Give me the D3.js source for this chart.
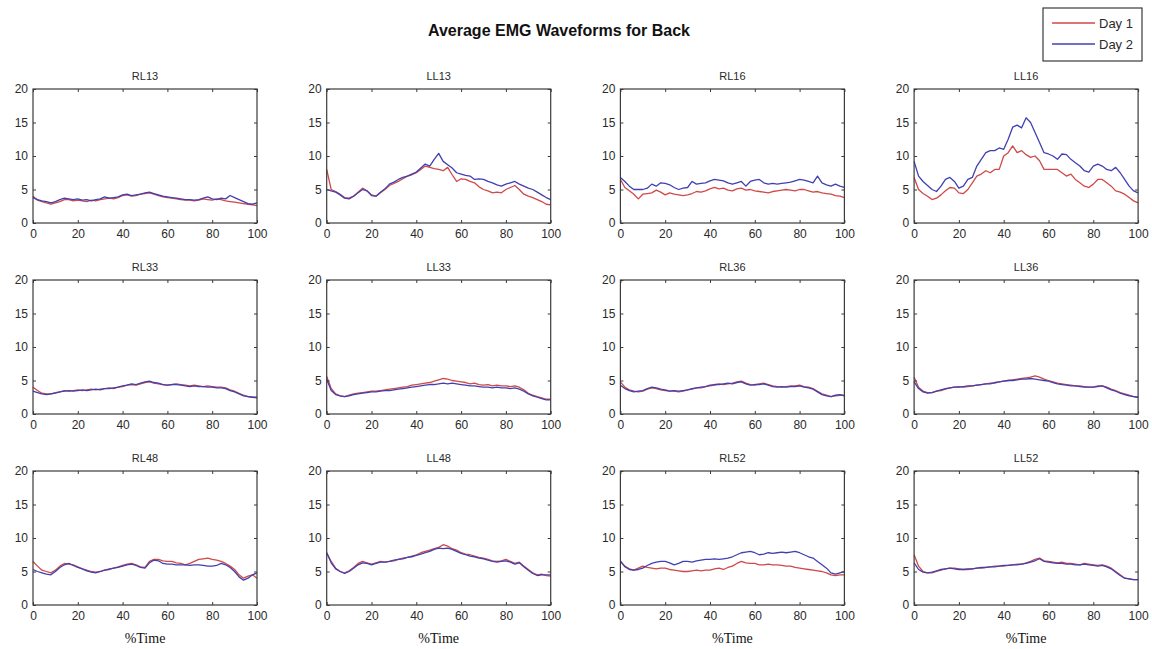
<!DOCTYPE html>
<html>
<head>
<meta charset="utf-8">
<script src="https://cdn.jsdelivr.net/npm/d3@7"></script>
<style>
  html, body { margin: 0; padding: 0; background: #fff; }
  svg { display: block; }
</style>
</head>
<body>
<svg id="chart" width="1152" height="649"></svg>
<script>
// Percent of the movement cycle, sampled every 2 %
const timePct = d3.range(0, 101, 2);

// Muscle sites, in panel order (row by row)
const sites = ["RL13", "LL13", "RL16", "LL16", "RL33", "LL33", "RL36", "LL36", "RL48", "LL48", "RL52", "LL52"];

const seriesNames = ["Day 1", "Day 2"];
const xTicks = [0, 20, 40, 60, 80, 100];
const yTicks = [0, 5, 10, 15, 20];

// Average EMG amplitude per site, Day 1
const day1 = {
  RL13: [4.0,3.4,3.2,3.0,2.8,3.0,3.2,3.5,3.5,3.3, 3.4,3.3,3.2,3.4,3.3,3.5,3.6,3.7,3.6,3.8, 4.1,4.2,4.0,4.1,4.3,4.4,4.5,4.3,4.1,3.9, 3.8,3.7,3.6,3.5,3.4,3.4,3.3,3.4,3.6,3.5, 3.4,3.6,3.5,3.3,3.2,3.1,3.0,2.9,2.8,2.7, 2.6],
  LL13: [8.0,5.0,4.7,4.3,3.8,3.7,4.0,4.6,5.2,4.8, 4.2,4.0,4.5,5.0,5.6,5.9,6.2,6.6,7.0,7.2, 7.5,8.0,8.5,8.3,8.1,8.0,7.8,8.3,7.2,6.2, 6.6,6.5,6.2,6.0,5.4,5.0,4.8,4.5,4.6,4.5, 5.0,5.3,5.6,5.0,4.3,4.0,3.8,3.5,3.2,2.8, 2.7],
  RL16: [6.5,5.3,4.8,4.3,3.6,4.3,4.4,4.5,4.9,4.6, 4.2,4.5,4.3,4.2,4.1,4.2,4.4,4.7,4.6,4.8, 5.1,5.3,5.1,5.2,4.9,4.8,5.1,5.2,4.9,5.0, 4.8,4.7,4.6,4.5,4.7,4.8,4.9,5.0,4.9,4.8, 5.0,5.0,4.8,4.6,4.7,4.5,4.4,4.3,4.1,4.0, 3.8],
  LL16: [6.8,5.0,4.4,4.0,3.5,3.7,4.2,4.8,5.3,5.2, 4.5,4.4,5.0,6.0,7.0,7.3,7.8,7.5,8.0,8.0, 10.0,10.5,11.5,10.5,10.8,10.2,9.8,10.0,9.3,8.0, 8.0,8.0,8.0,7.5,7.0,7.3,6.5,6.0,5.5,5.3, 5.8,6.5,6.5,6.0,5.5,4.8,4.6,4.3,3.8,3.3, 3.0],
  RL33: [4.0,3.5,3.1,3.0,3.0,3.2,3.3,3.5,3.4,3.5, 3.6,3.5,3.6,3.7,3.6,3.7,3.8,3.9,3.8,4.0, 4.1,4.3,4.4,4.3,4.5,4.7,4.8,4.6,4.5,4.4, 4.3,4.4,4.5,4.4,4.3,4.2,4.3,4.2,4.1,4.2, 4.1,4.0,4.0,3.9,3.6,3.4,3.1,2.8,2.6,2.5, 2.4],
  LL33: [5.6,3.8,3.0,2.7,2.6,2.8,3.0,3.1,3.2,3.3, 3.4,3.4,3.5,3.6,3.7,3.8,3.9,4.0,4.1,4.3, 4.4,4.5,4.6,4.7,4.9,5.1,5.3,5.2,5.0,4.9, 4.8,4.7,4.5,4.6,4.4,4.3,4.4,4.2,4.3,4.2, 4.2,4.1,4.2,4.0,3.6,3.1,2.8,2.6,2.4,2.2, 2.2],
  RL36: [4.8,4.0,3.6,3.4,3.3,3.4,3.7,3.9,3.8,3.6, 3.5,3.4,3.4,3.3,3.4,3.6,3.7,3.9,3.9,4.1, 4.2,4.3,4.5,4.4,4.5,4.6,4.8,4.9,4.6,4.4, 4.3,4.5,4.6,4.4,4.2,4.1,4.0,4.1,4.2,4.2, 4.3,4.1,4.0,3.8,3.4,3.0,2.8,2.6,2.7,2.8, 2.8],
  LL36: [5.5,4.0,3.4,3.2,3.2,3.4,3.5,3.7,3.9,4.0, 4.1,4.0,4.1,4.2,4.3,4.4,4.5,4.6,4.6,4.8, 4.9,5.0,5.1,5.2,5.3,5.4,5.5,5.7,5.5,5.2, 5.0,4.8,4.6,4.5,4.4,4.3,4.2,4.2,4.1,4.0, 4.0,4.2,4.2,4.0,3.7,3.5,3.2,3.0,2.8,2.6, 2.5],
  RL48: [6.5,5.8,5.2,5.0,4.8,5.2,5.8,6.2,6.1,6.0, 5.7,5.4,5.2,5.0,4.9,5.0,5.2,5.4,5.5,5.7, 5.9,6.1,6.2,6.0,5.7,5.6,6.5,6.8,6.8,6.6, 6.5,6.5,6.3,6.2,6.0,6.2,6.5,6.8,6.9,7.0, 6.8,6.7,6.5,6.2,5.8,5.3,4.5,4.0,4.3,4.5, 4.0],
  LL48: [7.8,6.5,5.5,5.0,4.8,5.1,5.6,6.2,6.5,6.3, 6.1,6.3,6.5,6.4,6.5,6.6,6.8,7.0,7.1,7.3, 7.5,7.8,8.0,8.2,8.4,8.6,9.0,8.8,8.4,8.2, 7.8,7.6,7.5,7.3,7.1,7.0,6.8,6.6,6.5,6.6, 6.8,6.5,6.2,6.4,5.8,5.3,4.8,4.5,4.6,4.4, 4.3],
  RL52: [6.5,5.8,5.4,5.2,5.5,5.8,5.6,5.5,5.4,5.5, 5.5,5.3,5.2,5.1,5.0,5.0,5.1,5.2,5.1,5.2, 5.2,5.4,5.5,5.3,5.6,5.8,6.2,6.5,6.3,6.2, 6.2,6.0,6.0,6.1,6.0,6.0,5.9,5.8,5.8,5.6, 5.5,5.4,5.3,5.2,5.1,5.0,4.8,4.5,4.4,4.5, 4.5],
  LL52: [7.5,5.8,5.0,4.8,4.8,5.0,5.2,5.4,5.5,5.5, 5.4,5.3,5.3,5.4,5.5,5.5,5.6,5.7,5.8,5.8, 5.8,5.9,6.0,6.1,6.1,6.3,6.5,6.8,7.0,6.6, 6.5,6.4,6.3,6.4,6.2,6.2,6.1,6.0,6.2,6.1, 6.0,5.9,6.0,5.8,5.5,5.0,4.5,4.0,3.9,3.8, 3.8]
};

// Average EMG amplitude per site, Day 2
const day2 = {
  RL13: [3.8,3.5,3.3,3.2,3.0,3.2,3.5,3.7,3.6,3.5, 3.6,3.4,3.5,3.3,3.5,3.6,3.9,3.7,3.8,3.9, 4.2,4.3,4.1,4.2,4.3,4.5,4.6,4.4,4.2,4.0, 3.9,3.8,3.7,3.6,3.5,3.5,3.4,3.5,3.7,3.9, 3.6,3.5,3.7,3.6,4.1,3.8,3.5,3.2,2.9,2.8, 3.0],
  LL13: [5.0,4.8,4.6,4.2,3.7,3.6,4.0,4.5,5.0,4.8, 4.1,4.0,4.6,5.1,5.8,6.1,6.5,6.8,7.0,7.3, 7.6,8.2,8.8,8.5,9.5,10.4,9.2,8.7,8.2,7.5, 7.3,7.1,7.0,6.5,6.6,6.5,6.2,6.0,5.7,5.5, 5.8,6.0,6.2,5.8,5.5,5.2,5.0,4.6,4.2,3.8, 3.5],
  RL16: [6.8,6.2,5.5,5.0,5.0,5.0,5.2,5.8,5.5,6.0, 5.9,5.7,5.3,5.0,5.2,5.3,6.2,5.8,5.9,6.0, 6.3,6.5,6.4,6.3,6.0,5.8,6.0,6.2,5.5,6.2, 6.4,6.5,6.0,5.8,5.9,5.8,5.9,6.0,6.1,6.3, 6.5,6.4,6.2,6.0,7.0,6.0,5.7,5.5,5.8,5.5, 5.3],
  LL16: [9.2,7.0,6.2,5.6,5.0,4.7,5.5,6.5,6.8,6.2, 5.2,5.5,6.5,6.8,8.5,9.5,10.5,10.8,10.8,11.2, 11.0,12.5,14.3,14.6,14.2,15.7,15.0,13.5,12.0,10.5, 10.3,10.0,9.5,10.3,10.2,9.5,9.0,8.5,7.8,7.6, 8.5,8.8,8.5,8.0,7.8,8.3,7.5,6.5,5.5,4.8, 4.5],
  RL33: [3.4,3.2,3.0,2.9,3.0,3.1,3.3,3.4,3.5,3.4, 3.5,3.6,3.5,3.6,3.7,3.6,3.8,3.8,3.9,4.0, 4.2,4.3,4.5,4.4,4.6,4.8,4.9,4.7,4.6,4.4, 4.3,4.4,4.4,4.3,4.2,4.1,4.2,4.1,4.1,4.0, 4.0,3.9,3.9,3.8,3.5,3.3,3.0,2.7,2.6,2.5, 2.5],
  LL33: [5.2,3.5,2.9,2.7,2.6,2.7,2.9,3.0,3.1,3.2, 3.3,3.3,3.4,3.5,3.5,3.6,3.7,3.8,3.9,4.0, 4.1,4.2,4.3,4.4,4.4,4.5,4.6,4.5,4.6,4.5, 4.4,4.3,4.2,4.2,4.1,4.0,4.0,3.9,4.0,3.9, 3.9,3.8,3.9,3.7,3.4,3.0,2.7,2.5,2.3,2.1, 2.1],
  RL36: [4.3,3.8,3.5,3.3,3.4,3.5,3.8,4.0,3.9,3.7, 3.6,3.4,3.5,3.4,3.5,3.6,3.8,3.9,4.0,4.1, 4.3,4.4,4.4,4.5,4.6,4.5,4.7,4.8,4.5,4.3, 4.4,4.4,4.5,4.3,4.1,4.0,4.1,4.0,4.1,4.1, 4.2,4.0,3.9,3.7,3.3,2.9,2.7,2.6,2.8,2.9, 2.7],
  LL36: [4.8,3.8,3.3,3.1,3.2,3.4,3.6,3.8,3.9,4.0, 4.0,4.1,4.2,4.2,4.3,4.4,4.5,4.5,4.7,4.8, 4.9,5.0,5.0,5.1,5.2,5.2,5.3,5.2,5.1,5.0, 4.9,4.7,4.5,4.4,4.3,4.2,4.2,4.1,4.0,4.0, 4.0,4.1,4.2,3.9,3.6,3.4,3.1,2.9,2.7,2.6, 2.5],
  RL48: [5.3,5.0,4.8,4.6,4.5,5.0,5.6,6.0,6.2,5.9, 5.6,5.4,5.1,4.9,4.8,5.0,5.2,5.3,5.5,5.6, 5.8,6.0,6.1,5.9,5.6,5.5,6.3,6.7,6.6,6.2, 6.1,6.1,6.0,6.0,6.0,5.9,6.0,6.0,5.9,5.8, 5.8,5.9,6.2,6.0,5.6,5.0,4.2,3.7,4.0,4.5, 4.8],
  LL48: [7.8,6.3,5.4,5.0,4.7,5.0,5.5,6.0,6.3,6.2, 6.0,6.2,6.4,6.4,6.5,6.7,6.8,6.9,7.1,7.2, 7.4,7.6,7.8,8.0,8.3,8.5,8.4,8.5,8.3,8.0, 7.7,7.5,7.3,7.2,7.0,6.9,6.7,6.5,6.4,6.5, 6.6,6.4,6.1,6.3,5.7,5.2,4.7,4.4,4.5,4.5, 4.5],
  RL52: [6.6,5.7,5.3,5.2,5.3,5.5,5.9,6.2,6.4,6.5, 6.5,6.3,6.0,6.2,6.5,6.5,6.4,6.6,6.7,6.8, 6.8,6.9,6.8,6.9,7.0,7.2,7.5,7.8,7.9,8.0, 7.8,7.5,7.6,7.8,7.7,7.8,7.9,7.8,7.9,8.0, 7.8,7.5,7.2,7.0,6.5,6.0,5.5,4.8,4.6,4.8, 5.0],
  LL52: [6.3,5.3,4.9,4.8,4.9,5.1,5.3,5.4,5.5,5.4, 5.3,5.3,5.4,5.4,5.5,5.6,5.6,5.7,5.7,5.8, 5.9,5.9,6.0,6.0,6.1,6.2,6.4,6.6,6.9,6.5, 6.4,6.3,6.2,6.2,6.1,6.1,6.0,6.0,6.1,6.0, 5.9,5.8,5.9,5.7,5.4,4.9,4.4,4.0,3.9,3.8, 3.8]
};

const svg = d3.select("#chart");
const sans = "'Liberation Sans', Arial, sans-serif";
const serif = "'Liberation Serif', 'Times New Roman', serif";
const lineColors = ["#d04848", "#4040b0"];
const axisColor = "#3a3a3a";
const textColor = "#2a2a2a";

// Panel grid
const nCols = 4;
const panelW = 224, panelH = 134;
const gridX = d3.scaleLinear().domain([0, 1]).range([33, 326.7]);
const gridY = d3.scaleLinear().domain([0, 1]).range([89, 280]);

const x = d3.scaleLinear().domain([0, 100]).range([0, panelW]);
const y = d3.scaleLinear().domain([0, 20]).range([panelH, 0]);

const line = d3.line()
  .x((d, i) => x(timePct[i]))
  .y(d => y(d));

// Overall title
svg.append("text")
  .attr("x", 559).attr("y", 36)
  .attr("text-anchor", "middle")
  .attr("font-family", sans)
  .attr("font-size", 16)
  .attr("font-weight", "bold")
  .attr("fill", "#111")
  .text("Average EMG Waveforms for Back");

sites.forEach((site, k) => {
  const col = k % nCols, row = Math.floor(k / nCols);
  const g = svg.append("g")
    .attr("transform", `translate(${gridX(col)},${gridY(row)})`);

  // Curves (drawn first so the frame sits on top)
  [day1[site], day2[site]].forEach((vals, s) => {
    g.append("path")
      .datum(vals)
      .attr("fill", "none")
      .attr("stroke", lineColors[s])
      .attr("stroke-width", 1.3)
      .attr("stroke-linejoin", "round")
      .attr("d", line);
  });

  // Axes with inward ticks on all four sides
  const styleAxis = sel => {
    sel.select(".domain").remove();
    sel.selectAll(".tick line").attr("stroke", axisColor);
    sel.selectAll(".tick text")
      .attr("fill", textColor)
      .attr("font-family", sans)
      .attr("font-size", 12);
  };

  g.append("g")
    .attr("transform", `translate(0,${panelH})`)
    .call(d3.axisBottom(x).tickValues(xTicks).tickSize(-3).tickPadding(6))
    .call(styleAxis);
  g.append("g")
    .call(d3.axisLeft(y).tickValues(yTicks).tickSize(-3).tickPadding(5))
    .call(styleAxis);
  g.append("g")
    .call(d3.axisTop(x).tickValues(xTicks).tickSize(-3).tickFormat(""))
    .call(styleAxis);
  g.append("g")
    .attr("transform", `translate(${panelW},0)`)
    .call(d3.axisRight(y).tickValues(yTicks).tickSize(-3).tickFormat(""))
    .call(styleAxis);

  g.append("rect")
    .attr("width", panelW).attr("height", panelH)
    .attr("fill", "none")
    .attr("stroke", axisColor)
    .attr("stroke-width", 1.2);

  // Panel title
  g.append("text")
    .attr("x", panelW / 2).attr("y", -9)
    .attr("text-anchor", "middle")
    .attr("font-family", sans)
    .attr("font-size", 11)
    .attr("fill", textColor)
    .text(site);

  // x-axis label on the bottom row
  if (row === 2) {
    g.append("text")
      .attr("x", panelW / 2).attr("y", panelH + 38)
      .attr("text-anchor", "middle")
      .attr("font-family", serif)
      .attr("font-size", 14)
      .attr("fill", "#111")
      .text("%Time");
  }
});

// Legend
const legend = svg.append("g").attr("transform", "translate(1043,8)");
legend.append("rect")
  .attr("width", 99).attr("height", 53)
  .attr("fill", "#fff")
  .attr("stroke", axisColor)
  .attr("stroke-width", 1.2);
seriesNames.forEach((name, i) => {
  const ly = 15 + i * 21;
  legend.append("line")
    .attr("x1", 9).attr("x2", 52)
    .attr("y1", ly).attr("y2", ly)
    .attr("stroke", lineColors[i])
    .attr("stroke-width", 1.3);
  legend.append("text")
    .attr("x", 56).attr("y", ly + 4.5)
    .attr("font-family", sans)
    .attr("font-size", 13)
    .attr("fill", textColor)
    .text(name);
});
</script>
</body>
</html>
